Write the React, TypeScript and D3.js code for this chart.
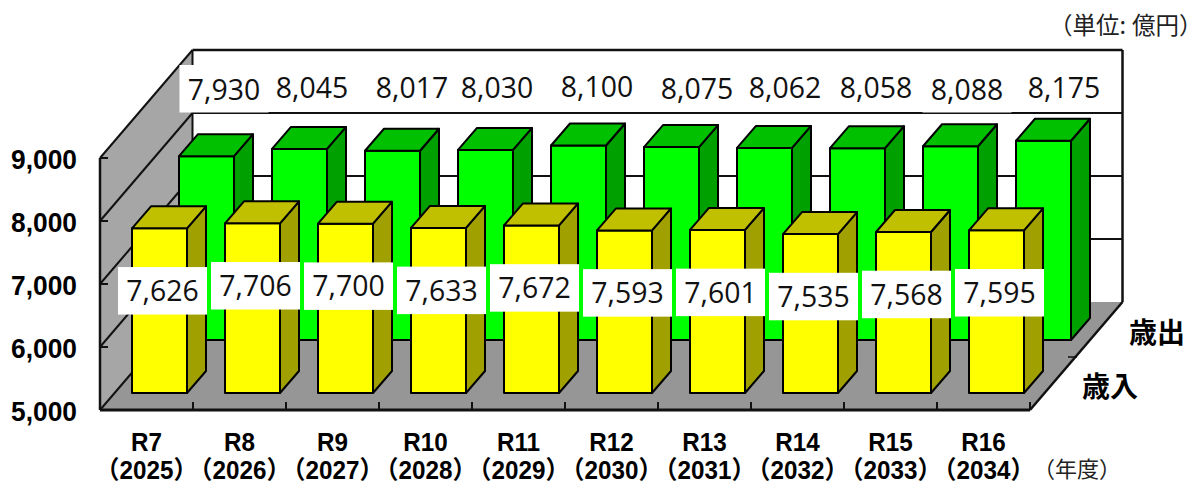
import React from "react";
import * as d3 from "d3";

// ---- data ----
const fiscalYears = ["R7", "R8", "R9", "R10", "R11", "R12", "R13", "R14", "R15", "R16"];
const calendarYears = ["2025", "2026", "2027", "2028", "2029", "2030", "2031", "2032", "2033", "2034"];
const revenue = [7626, 7706, 7700, 7633, 7672, 7593, 7601, 7535, 7568, 7595];
const expenditure = [7930, 8045, 8017, 8030, 8100, 8075, 8062, 8058, 8088, 8175];
const valueTicks = [5000, 6000, 7000, 8000, 9000];
const revenueName = "歳入";
const expenditureName = "歳出";
const unitLabelHead = "（単位:";
const unitLabelTail = "億円）";
const yearLabel = "（年度）";

// ---- hand placed label layout of the original ----
const expLabelX = [224, 312, 412, 497, 597, 697, 785, 876, 967, 1064];
const expLabelY = [90, 88, 88, 88, 87, 89, 88, 88, 90, 88];

// ---- layout ----
const W = 1191, H = 484;
const x = d3.scaleBand<string>().domain(fiscalYears).range([100, 1030]);
const y = d3.scaleLinear().domain([5000, 9000]).range([410, 158]);
const DX = 92.5, DY = 108;
const BAR_W = 55, BAR_INSET = 19, BAR_DX = 19, BAR_DY = 22;
const revDepth = { dx: 13, dy: 17 };
const expDepth = { dx: 60, dy: 70 };
const FONT_LABEL = "'Open Sans', sans-serif";
const FONT_AXIS = "'Liberation Sans', 'Noto Sans CJK JP', sans-serif";
const FONT_CJK = "'Noto Sans CJK JP', sans-serif";

const pts = (p: [number, number][]) => p.map((q) => q.join(",")).join(" ");

function Bar({ cat, value, depth, face, side, top }: any) {
  const x0 = (x(cat) as number) + BAR_INSET + depth.dx;
  const x1 = x0 + BAR_W;
  const yb = y(5000) - depth.dy;
  const yt = y(value) - depth.dy + 0.8;
  return (
    <g stroke="#000" strokeWidth={2} strokeLinejoin="round">
      <rect x={x0} y={yt} width={BAR_W} height={yb - yt} fill={face} />
      <polygon fill={side} points={pts([[x1, yt], [x1 + BAR_DX, yt - BAR_DY], [x1 + BAR_DX, yb - BAR_DY], [x1, yb]])} />
      <polygon fill={top} points={pts([[x0, yt], [x0 + BAR_DX, yt - BAR_DY], [x1 + BAR_DX, yt - BAR_DY], [x1, yt]])} />
    </g>
  );
}

function BoxLabel({ cx, cy, up, value }: { cx: number; cy: number; up: number; value: number }) {
  return (
    <g>
      <rect x={cx - 44.5} y={cy - up} width={89} height={47.5} fill="#fff" />
      <text x={cx} y={cy + 10} textAnchor="middle" fontFamily={FONT_LABEL} fontSize={28.4} fill="#111">
        {d3.format(",")(value)}
      </text>
    </g>
  );
}

function AxisText({ cx, by, size, sx, children }: any) {
  return (
    <text
      transform={`translate(${cx},${by}) scale(${sx},1)`}
      textAnchor="middle"
      fontFamily={FONT_AXIS}
      fontWeight={700}
      fontSize={size}
      fill="#000"
    >
      {children}
    </text>
  );
}

export default function App() {
  const x0 = 100, x1 = 1030, yb = y(5000), yt = y(9000);
  const bx0 = x0 + DX, bx1 = x1 + DX, byb = yb - DY, byt = yt - DY;
  const line = { stroke: "#111", strokeWidth: 2 };
  return (
    <svg width={W} height={H} viewBox={`0 0 ${W} ${H}`} style={{ position: "absolute", left: 0, top: 0 }}>
      <rect width={W} height={H} fill="#fff" />
      {/* walls */}
      <polygon fill="#a6a6a6" points={pts([[x0, yt], [bx0, byt], [bx0, byb], [x0, yb]])} />
      <polygon fill="#969696" points={pts([[x0, yb], [bx0, byb], [bx1, byb], [x1, yb]])} />
      {valueTicks.map((v) => (
        <g key={v}>
          <line x1={x0} y1={y(v)} x2={bx0} y2={y(v) - DY} {...line} />
          {v < 9000 && v > 5000 && <line x1={bx0} y1={y(v) - DY} x2={bx1} y2={y(v) - DY} {...line} />}
          <line x1={x0} y1={y(v)} x2={x0 + 8} y2={y(v)} {...line} />
        </g>
      ))}
      <line x1={bx0} y1={byt} x2={bx1} y2={byt} {...line} strokeWidth={2.5} />
      <line x1={bx1} y1={byt} x2={bx1} y2={byb} {...line} strokeWidth={2.5} />
      <line x1={bx0} y1={byt} x2={bx0} y2={byb} {...line} />
      <line x1={x0} y1={yt} x2={x0} y2={yb} {...line} strokeWidth={2.5} />
      <line x1={x0} y1={yb} x2={x1} y2={yb} {...line} strokeWidth={3} />
      <line x1={x1} y1={yb} x2={bx1} y2={byb} {...line} strokeWidth={2.5} />
      <line x1={x1 + 38} y1={357} x2={x1 + 47} y2={357} {...line} strokeWidth={1.5} />
      {fiscalYears.map((c) => (
        <line key={c} x1={(x(c) as number) + x.bandwidth()} y1={yb} x2={(x(c) as number) + x.bandwidth()} y2={yb - 8} {...line} />
      ))}

      {/* bars */}
      {fiscalYears.map((c, i) => (
        <Bar key={c} cat={c} value={expenditure[i]} depth={expDepth} face="#00ff00" side="#00a000" top="#00c000" />
      ))}
      {fiscalYears.map((c, i) => (
        <Bar key={c} cat={c} value={revenue[i]} depth={revDepth} face="#ffff00" side="#a0a000" top="#c0c000" />
      ))}

      {/* value labels */}
      {expenditure.map((v, i) => (
        <BoxLabel key={i} cx={expLabelX[i]} cy={expLabelY[i]} up={25} value={v} />
      ))}
      {revenue.map((v, i) => (
        <BoxLabel key={i} cx={(x(fiscalYears[i]) as number) + x.bandwidth() / 2 + 16} cy={y(v) - revDepth.dy + 63.5} up={24} value={v} />
      ))}

      {/* value axis */}
      {valueTicks.map((v) => (
        <AxisText key={v} cx={44} by={y(v) + 11} size={28} sx={0.94}>
          {d3.format(",")(v)}
        </AxisText>
      ))}

      {/* category axis */}
      {fiscalYears.map((c, i) => {
        const cx = (x(c) as number) + x.bandwidth() / 2;
        return (
          <g key={c}>
            <AxisText cx={cx} by={451} size={25} sx={0.97}>{c}</AxisText>
            <AxisText cx={cx} by={478.5} size={25} sx={0.97}>{`（${calendarYears[i]}）`}</AxisText>
          </g>
        );
      })}

      {/* series names and units */}
      <text x={1129} y={343} fontFamily={FONT_CJK} fontWeight={700} fontSize={28} fill="#000">{expenditureName}</text>
      <text x={1082} y={397} fontFamily={FONT_CJK} fontWeight={700} fontSize={28} fill="#000">{revenueName}</text>
      <text x={1049} y={34} fontFamily={FONT_CJK} fontSize={23.5} fill="#222">
        {unitLabelHead}
        <tspan dx={6}>{unitLabelTail}</tspan>
      </text>
      <text x={1033} y={477} fontFamily={FONT_CJK} fontSize={22} fill="#222">{yearLabel}</text>
    </svg>
  );
}
